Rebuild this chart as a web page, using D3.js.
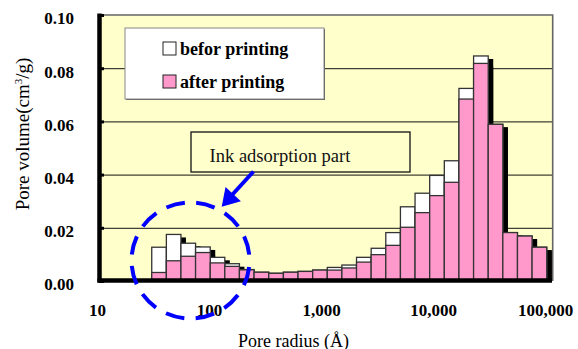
<!DOCTYPE html>
<html>
<head>
<meta charset="utf-8">
<script src="https://cdn.jsdelivr.net/npm/d3@7"></script>
<style>
  html, body { margin: 0; padding: 0; background: #ffffff; }
  svg { display: block; }
</style>
</head>
<body>
<svg id="chart" width="578" height="349"></svg>
<script>
// ---- data ----
const binEdges = [30.5, 41.2, 55.6, 75.1, 101.5, 137, 185, 250, 338, 457, 617, 834,
  1126, 1521, 2055, 2776, 3750, 5067, 6844, 9246, 12490, 16875, 22800, 30800,
  41600, 56200, 75900, 102600];
const beforeValues = [0.0127, 0.0175, 0.0142, 0.0128, 0.0089, 0.0065, 0.0043, 0.0033,
  0.0029, 0.0033, 0.0036, 0.0041, 0.0051, 0.0060, 0.0089, 0.0123, 0.0182, 0.0279,
  0.0330, 0.0397, 0.0452, 0.0724, 0.0846, 0.0589, 0.0182, 0.0169, 0.0127];
const afterValues = [0.0032, 0.0076, 0.0093, 0.0107, 0.0068, 0.0055, 0.0042, 0.0033,
  0.0029, 0.0033, 0.0036, 0.0041, 0.0041, 0.0049, 0.0071, 0.0099, 0.0134, 0.0202,
  0.0257, 0.0321, 0.0371, 0.0684, 0.0818, 0.0589, 0.0182, 0.0169, 0.0127];
const seriesNames = ["befor printing", "after printing"];
const yTicks = [0, 0.02, 0.04, 0.06, 0.08, 0.10];
const yTickLabels = ["0.00", "0.02", "0.04", "0.06", "0.08", "0.10"];
const xTicks = [10, 100, 1000, 10000, 100000];
const xTickLabels = ["10", "100", "1,000", "10,000", "100,000"];

// ---- layout ----
const plot = { left: 100, right: 552.7, top: 15, bottom: 281 };
const colors = { bg: "#FFFFCC", before: "#FFFFFF", after: "#FF99CC", blue: "#0000FF" };
const serif = "'Liberation Serif', 'Times New Roman', serif";

const svg = d3.select("#chart");
const x = d3.scaleLog().domain([10, 100000]).range([97.5, 545.5]);
const y = d3.scaleLinear().domain([0, 0.1]).range([plot.bottom, plot.top]);

// plot background
svg.append("rect")
  .attr("x", plot.left).attr("y", plot.top)
  .attr("width", plot.right - plot.left).attr("height", plot.bottom - plot.top)
  .attr("fill", colors.bg);

// gridlines
svg.append("g").selectAll("line")
  .data(yTicks.filter(d => d > 0 && d < 0.1))
  .join("line")
  .attr("x1", plot.left).attr("x2", plot.right)
  .attr("y1", d => y(d) + 0.5).attr("y2", d => y(d) + 0.5)
  .attr("stroke", "#111").attr("stroke-width", 1);

// top and right border
svg.append("path")
  .attr("d", `M${plot.left},${plot.top} H${plot.right} V${plot.bottom}`)
  .attr("fill", "none").attr("stroke", "#666").attr("stroke-width", 1.6);

// legend box
const lg = svg.append("g");
lg.append("rect").attr("x", 126).attr("y", 29).attr("width", 199).attr("height", 71)
  .attr("fill", "#555");
lg.append("rect").attr("x", 125).attr("y", 28).attr("width", 199).attr("height", 71)
  .attr("fill", "#ffffff").attr("stroke", "#888").attr("stroke-width", 1);
const legendRows = [
  { name: seriesNames[0], fill: colors.before, y: 42 },
  { name: seriesNames[1], fill: colors.after, y: 75 }
];
lg.selectAll("rect.sw").data(legendRows).join("rect").attr("class", "sw")
  .attr("x", 163).attr("y", d => d.y).attr("width", 13).attr("height", 13)
  .attr("fill", d => d.fill).attr("stroke", "#222").attr("stroke-width", 1);
lg.selectAll("text").data(legendRows).join("text")
  .attr("x", 180).attr("y", d => d.y + 13)
  .attr("font-family", serif).attr("font-weight", "bold").attr("font-size", 18)
  .attr("fill", "#000").text(d => d.name);

// ink adsorption label box
svg.append("rect").attr("x", 191).attr("y", 132).attr("width", 219).attr("height", 40)
  .attr("fill", colors.bg).attr("stroke", "#111").attr("stroke-width", 1.3);
svg.append("text").attr("x", 280).attr("y", 161.5).attr("text-anchor", "middle")
  .attr("font-family", serif).attr("font-size", 18.5).attr("fill", "#111")
  .text("Ink adsorption part");

// bars
const bins = binEdges.slice(0, -1).map((lo, i) => ({
  lo, hi: binEdges[i + 1], before: beforeValues[i], after: afterValues[i]
}));
const shadowDx = 5, shadowDy = 3;
const gShadow = svg.append("g");
["before", "after"].forEach(key => {
  gShadow.selectAll("rect." + key).data(bins).join("rect").attr("class", key)
    .attr("x", d => x(d.lo) + shadowDx)
    .attr("y", d => y(d[key]) + shadowDy)
    .attr("width", d => x(d.hi) - x(d.lo))
    .attr("height", d => Math.max(0, plot.bottom - y(d[key]) - shadowDy))
    .attr("fill", "#000");
});
["before", "after"].forEach(key => {
  svg.append("g").selectAll("rect").data(bins).join("rect")
    .attr("x", d => x(d.lo))
    .attr("y", d => y(d[key]))
    .attr("width", d => x(d.hi) - x(d.lo))
    .attr("height", d => plot.bottom - y(d[key]))
    .attr("fill", colors[key])
    .attr("stroke", "#333").attr("stroke-width", 1.3);
});

// axes lines
svg.append("line").attr("x1", 99.5).attr("x2", 99.5).attr("y1", 13.5).attr("y2", 282.5)
  .attr("stroke", "#000").attr("stroke-width", 4.5);
svg.append("line").attr("x1", 97.5).attr("x2", 552).attr("y1", 280.5).attr("y2", 280.5)
  .attr("stroke", "#000").attr("stroke-width", 4.5);
// left ticks
svg.append("g").selectAll("line").data(yTicks).join("line")
  .attr("x1", 99).attr("x2", 104).attr("y1", d => y(d) + 0.5).attr("y2", d => y(d) + 0.5)
  .attr("stroke", "#000").attr("stroke-width", 3);

// y tick labels
svg.append("g").selectAll("text").data(yTicks).join("text")
  .attr("x", 74).attr("y", d => y(d) + 9.3).attr("text-anchor", "end")
  .attr("font-family", serif).attr("font-weight", "bold").attr("font-size", 17)
  .text((d, i) => yTickLabels[i]);

// x tick labels
svg.append("g").selectAll("text").data(xTicks).join("text")
  .attr("x", d => x(d)).attr("y", 316).attr("text-anchor", "middle")
  .attr("font-family", serif).attr("font-weight", "bold").attr("font-size", 17)
  .text((d, i) => xTickLabels[i]);

// axis titles
svg.append("text").attr("x", 293.5).attr("y", 346.5).attr("text-anchor", "middle")
  .attr("font-family", serif).attr("font-size", 18).text("Pore radius (Å)");
const yt = svg.append("text").attr("transform", "translate(29,134) rotate(-90)")
  .attr("text-anchor", "middle").attr("font-family", serif).attr("font-size", 19);
yt.append("tspan").text("Pore volume(cm");
yt.append("tspan").attr("font-size", 11).attr("dy", -7).text("3");
yt.append("tspan").attr("dy", 7).text("/g)");

// dashed ellipse
svg.append("ellipse").attr("cx", 190.5).attr("cy", 260.5).attr("rx", 59).attr("ry", 58)
  .attr("fill", "none").attr("stroke", colors.blue).attr("stroke-width", 4)
  .attr("stroke-dasharray", "19,11.5").attr("stroke-dashoffset", 24);

// arrow
svg.append("line").attr("x1", 253.5).attr("y1", 171.5).attr("x2", 232).attr("y2", 195)
  .attr("stroke", colors.blue).attr("stroke-width", 4);
svg.append("path").attr("d", "M221.7,206.7 L225.5,187.1 L240.9,201.3 Z")
  .attr("fill", colors.blue);
</script>
</body>
</html>
